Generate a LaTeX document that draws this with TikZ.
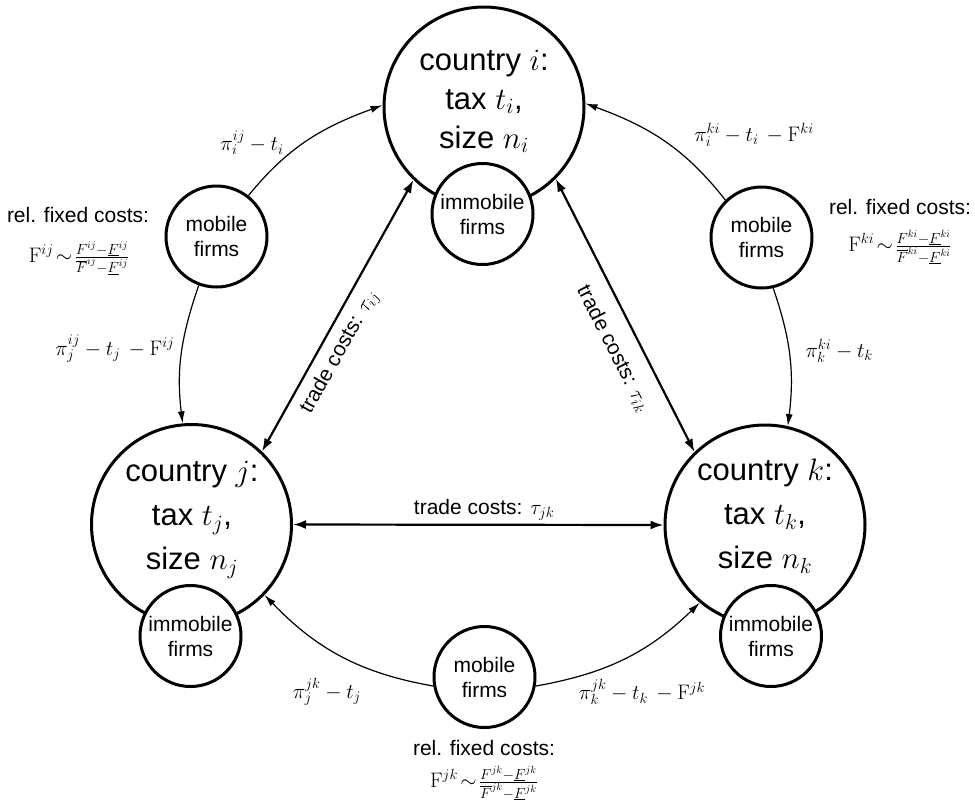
\RequirePackage{fix-cm}
\documentclass[tikz,border=0pt]{standalone}
\usepackage[no-math]{fontspec}
\setmainfont{Liberation Sans}
\usetikzlibrary{arrows.meta}
\begin{document}
\begin{tikzpicture}[x=1pt,y=1pt,
  country/.style={circle, draw, line width=3pt, minimum size=200pt, inner sep=0pt},
  firmnode/.style={circle, draw, line width=3pt, fill=white, minimum size=101pt, inner sep=0pt, align=center, font=\fontsize{21}{25}\selectfont},
  ctexti/.style={align=center, font=\fontsize{31}{39}\selectfont},
  ctextj/.style={align=center, font=\fontsize{31}{44}\selectfont},
  small/.style={font=\fontsize{21}{25}\selectfont},
  trade/.style={{Latex[length=13pt,width=9pt]}-{Latex[length=13pt,width=9pt]}, line width=2.2pt},
  flow/.style={-{Latex[length=12pt,width=7pt]}, line width=1.2pt},
]
\useasboundingbox (0,0) rectangle (975,-807);

% countries
\node[country] (ci) at (484,-107) {};
\node[country] (cj) at (191.5,-524.5) {};
\node[country] (ck) at (765,-525) {};
\node[ctexti] (ti) at (484,-101.5) {country $i$:\\tax $t_i$,\\size $n_i$};
\node[ctextj] (tj) at (192,-520) {country $j$:\\tax $t_j$,\\size $n_j$};
\node[ctextj] (tk) at (765,-516) {country $k$:\\tax $t_k$,\\size $n_k$};

% immobile firms
\node[firmnode] (ii) at (482.5,-214) {immobile\\firms};
\node[firmnode] (ij) at (190.5,-636) {immobile\\firms};
\node[firmnode] (ik) at (771,-636) {immobile\\firms};

% mobile firms
\node[firmnode] (mij) at (216.5,-236.5) {mobile\\firms};
\node[firmnode] (mki) at (761.5,-237.5) {mobile\\firms};
\node[firmnode] (mjk) at (484.5,-677) {mobile\\firms};

% flows
\draw[flow] (mij.52) to[out=51,in=200] (ci.179);
\draw[flow] (mij.250) to[out=251,in=97] (cj.95);
\draw[flow] (mki.134) to[out=128,in=340] (ci.2);
\draw[flow] (mki.283) to[out=289,in=83] (ck.77);
\draw[flow] (mjk.190) to[out=170,in=314] (cj.316);
\draw[flow] (mjk.350) to[out=10,in=224] (ck.230);

% trade
\draw[trade] (cj.46) -- node[sloped, below=5pt, pos=0.4, small] {trade costs: $\tau_{ij}$} (ci.226);
\draw[trade] (ci.315) -- node[sloped, below=12pt, pos=0.58, small] {trade costs: $\tau_{ik}$} (ck.134);
\draw[trade] (cj.east) -- node[above, pos=0.516, small] {trade costs: $\tau_{jk}$} (ck.west);

% flow labels
\node[small] (l1) at (252,-143) {$\pi_i^{ij}-t_i$};
\node[small, anchor=base east] (l2) at (178,-355) {$\pi_j^{ij}-t_j\,-\mathrm{F}^{ij}$};
\node[small] (l3) at (754,-135) {$\pi_i^{ki}-t_i\,-\mathrm{F}^{ki}$};
\node[small, anchor=base west] (l4) at (802,-357) {$\pi_k^{ki}-t_k$};
\node[small] (l5) at (327,-692) {$\pi_j^{jk}-t_j$};
\node[small] (l6) at (642,-692) {$\pi_k^{jk}-t_k\,-\mathrm{F}^{jk}$};

% relative fixed costs
\node[small] (r1) at (78,-215) {rel. fixed costs:};
\node[small] (f1) at (79,-258) {$\mathrm{F}^{ij}\!\sim\!\frac{F^{ij}-\underline{F}^{ij}}{\overline{F}^{ij}-\underline{F}^{ij}}$};
\node[small] (r2) at (900,-207) {rel. fixed costs:};
\node[small] (f2) at (900,-247) {$\mathrm{F}^{ki}\!\sim\!\frac{F^{ki}-\underline{F}^{ki}}{\overline{F}^{ki}-\underline{F}^{ki}}$};
\node[small] (r3) at (484,-748) {rel. fixed costs:};
\node[small] (f3) at (484,-783) {$\mathrm{F}^{jk}\!\sim\!\frac{F^{jk}-\underline{F}^{jk}}{\overline{F}^{jk}-\underline{F}^{jk}}$};
\end{tikzpicture}
\end{document}
